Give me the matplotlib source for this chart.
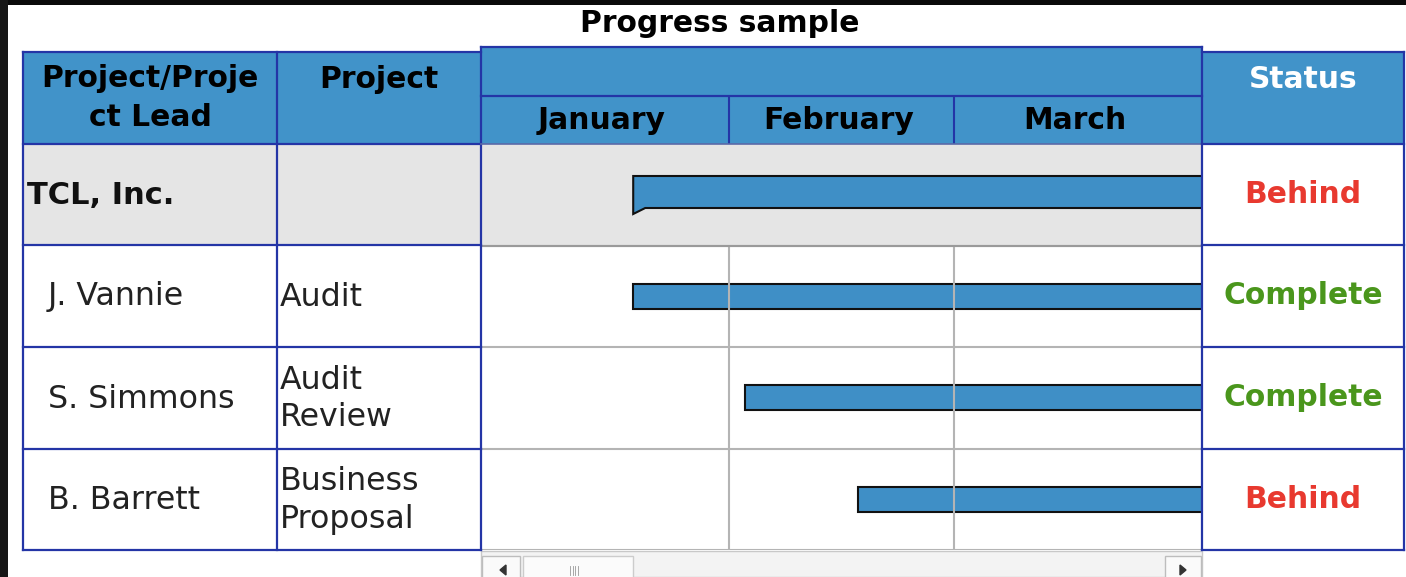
import matplotlib
matplotlib.use("Agg")
import matplotlib.pyplot as plt
from matplotlib.patches import Rectangle, Polygon

# ---------------- data ----------------
title = "Progress sample"
col_headers = ["Project/Proje\nct Lead", "Project"]
status_header = "Status"
leads = ["TCL, Inc.", "J. Vannie", "S. Simmons", "B. Barrett"]
projects = ["", "Audit", "Audit\nReview", "Business\nProposal"]
months = ["January", "February", "March"]
month_days = [31, 28, 31]
start_day = [19, 19, 33, 47]          # days since Jan 1
end_day = [110, 110, 110, 110]        # continue past the visible window
is_summary = [True, False, False, False]
status = ["Behind", "Complete", "Complete", "Behind"]
status_colors = {"Behind": "#e8392f", "Complete": "#4a961c"}

# ---------------- style ----------------
W, H = 1406, 577
HEAD_BLUE = "#4193c9"
BORDER = "#2435a6"
GRID = "#b4b4b4"
GREY_ROW = "#e5e5e5"
BAR = "#3f8fc6"
FS_B = 21.4
FS_R = 22.8

fig = plt.figure(figsize=(W / 100, H / 100), dpi=100)
fig.patch.set_facecolor("white")

ax = fig.add_axes([0, 0, 1, 1])
ax.set_xlim(0, W)
ax.set_ylim(H, 0)
ax.axis("off")
ax.set_zorder(0)

# page border (black)
ax.add_patch(Rectangle((0, 0), W, 5, color="#0a0a0a", lw=0))
ax.add_patch(Rectangle((0, 0), 8, H, color="#161616", lw=0))

# geometry of table
x_c1, x_c2, x_tl, x_st, x_end = 23, 277, 481, 1202, 1404
y_head, y_tlhead, y_mid, y_body = 52, 47, 96, 144
row_edges = [144, 245, 347, 449, 550]

ax.text(720, 23, title, ha="center", va="center",
        fontsize=FS_B, fontweight="bold", color="black")

# header backgrounds
ax.add_patch(Rectangle((x_c1, y_head), x_tl - x_c1, y_body - y_head,
                       facecolor=HEAD_BLUE, edgecolor="none"))
ax.add_patch(Rectangle((x_st, y_head), x_end - x_st, y_body - y_head,
                       facecolor=HEAD_BLUE, edgecolor="none"))
ax.add_patch(Rectangle((x_tl, y_tlhead), x_st - x_tl, y_body - y_tlhead,
                       facecolor=HEAD_BLUE, edgecolor="none"))

# header texts
ax.text((x_c1 + x_c2) / 2, 98, col_headers[0], ha="center", va="center",
        fontsize=FS_B, fontweight="bold", color="black", linespacing=1.45)
ax.text((x_c2 + x_tl) / 2, 79, col_headers[1], ha="center", va="center",
        fontsize=FS_B, fontweight="bold", color="black")
ax.text((x_st + x_end) / 2, 79, status_header, ha="center", va="center",
        fontsize=FS_B, fontweight="bold", color="white")

# body cells of left columns
for i, (lead, proj) in enumerate(zip(leads, projects)):
    y0, y1 = row_edges[i], row_edges[i + 1]
    yc = (y0 + y1) / 2
    fc = GREY_ROW if is_summary[i] else "white"
    ax.add_patch(Rectangle((x_c1, y0), x_tl - x_c1, y1 - y0, facecolor=fc, edgecolor="none"))
    if is_summary[i]:
        ax.text(x_c1 + 4, yc + 1, lead, ha="left", va="center", fontsize=FS_B + 0.6,
                fontweight="bold", color="#111111")
    else:
        ax.text(x_c1 + 25, yc + 1, lead, ha="left", va="center", fontsize=FS_R,
                color="#222222")
    if proj:
        ax.text(x_c2 + 3, yc + 1, proj, ha="left", va="center", fontsize=FS_R,
                color="#222222", linespacing=1.26)
    # status text
    ax.text((x_st + x_end) / 2, yc, status[i], ha="center", va="center",
            fontsize=FS_B, fontweight="bold", color=status_colors[status[i]])

# scrollbar under the timeline
ax.add_patch(Rectangle((x_tl, 551), x_st - x_tl, H - 551, facecolor="#f3f3f3",
                       edgecolor="#c8c8c8", lw=1))
ax.add_patch(Rectangle((x_tl + 1, 556), 38, 30, facecolor="#fafafa", edgecolor="#bdbdbd", lw=1))
ax.add_patch(Rectangle((x_tl + 42, 556), 110, 30, facecolor="#fbfbfb", edgecolor="#cccccc", lw=1))
ax.add_patch(Rectangle((x_st - 37, 556), 36, 30, facecolor="#fafafa", edgecolor="#bdbdbd", lw=1))
ax.add_patch(Polygon([[500, 570], [506, 565], [506, 575]], closed=True, color="#333333"))
ax.add_patch(Polygon([[1186, 570], [1180, 565], [1180, 575]], closed=True, color="#333333"))
for k in range(4):
    ax.plot([570 + 2.5 * k] * 2, [566, 575], color="#999999", lw=0.6)

# ---------------- gantt axes ----------------
total_days = sum(month_days)
n = len(leads)
fx0 = x_tl / W
fw = (x_st - x_tl) / W
fy0 = 1 - row_edges[-1] / H
fh = (row_edges[-1] - row_edges[0]) / H
gax = fig.add_axes([fx0, fy0, fw, fh])
gax.set_zorder(1)
gax.set_xlim(0, total_days)
gax.set_ylim(n, 0)
gax.axis("off")
gax.patch.set_visible(False)

# month boundaries
bounds = [0]
for d in month_days:
    bounds.append(bounds[-1] + d)

row_h_px = (row_edges[-1] - row_edges[0]) / n
px = 1.0 / row_h_px  # one pixel in row units

for i in range(n):
    if is_summary[i]:
        gax.axhspan(i, i + 1, color=GREY_ROW, lw=0)
for b in bounds[1:-1]:
    gax.vlines(b, 1, n, color=GRID, lw=1.5)
for r in range(1, n + 1):
    gax.axhline(r, color=GRID, lw=1.5)
gax.axhline(1, color="#9a9a9a", lw=1.5)

for i in range(n):
    s, e = start_day[i], end_day[i]
    if is_summary[i]:
        top = i + 32 * px
        bot = i + 64 * px
        tab = 6 * px
        notch = 1.5
        poly = Polygon([[s, top], [e, top], [e, bot], [s + notch, bot], [s, bot + tab]],
                       closed=True, facecolor=BAR, edgecolor="#111111", lw=1.5,
                       joinstyle="miter")
        gax.add_patch(poly)
    else:
        gax.barh(i + 0.5, e - s, left=s, height=25 * px, color=BAR,
                 edgecolor="#111111", lw=1.5)

# ---------------- month header axes ----------------
hax = fig.add_axes([fx0, 1 - y_body / H, fw, (y_body - y_mid) / H], sharex=gax)
hax.set_zorder(2)
hax.set_ylim(1, 0)
hax.axis("off")
hax.patch.set_visible(False)
for j, m in enumerate(months):
    hax.text((bounds[j] + bounds[j + 1]) / 2 - 0.4, 0.52, m, ha="center", va="center",
             fontsize=FS_B, fontweight="bold", color="black")
for b in bounds[1:-1]:
    hax.vlines(b, 0, 1, color=BORDER, lw=1.5)

# ---------------- border overlay ----------------
oax = fig.add_axes([0, 0, 1, 1])
oax.set_zorder(3)
oax.set_xlim(0, W)
oax.set_ylim(H, 0)
oax.axis("off")
oax.patch.set_visible(False)
lk = dict(color=BORDER, lw=1.6, solid_capstyle="projecting")
# left table block
oax.plot([x_c1, x_tl], [y_head, y_head], **lk)
for y in row_edges:
    oax.plot([x_c1, x_tl], [y, y], **lk)
for x in (x_c1, x_c2):
    oax.plot([x, x], [y_head, row_edges[-1]], **lk)
oax.plot([x_tl, x_tl], [y_tlhead, row_edges[-1]], **lk)
# timeline header
oax.plot([x_tl, x_st], [y_tlhead, y_tlhead], **lk)
oax.plot([x_tl, x_st], [y_mid, y_mid], **lk)
oax.plot([x_tl, x_st], [y_body, y_body], color="#5a6aa8", lw=1.2)
# status column
oax.plot([x_st, x_end], [y_head, y_head], **lk)
for y in row_edges:
    oax.plot([x_st, x_end], [y, y], **lk)
oax.plot([x_st, x_st], [y_tlhead, row_edges[-1]], **lk)
oax.plot([x_end, x_end], [y_head, row_edges[-1]], **lk)

fig.savefig("out.png", dpi=100, facecolor=fig.get_facecolor())
